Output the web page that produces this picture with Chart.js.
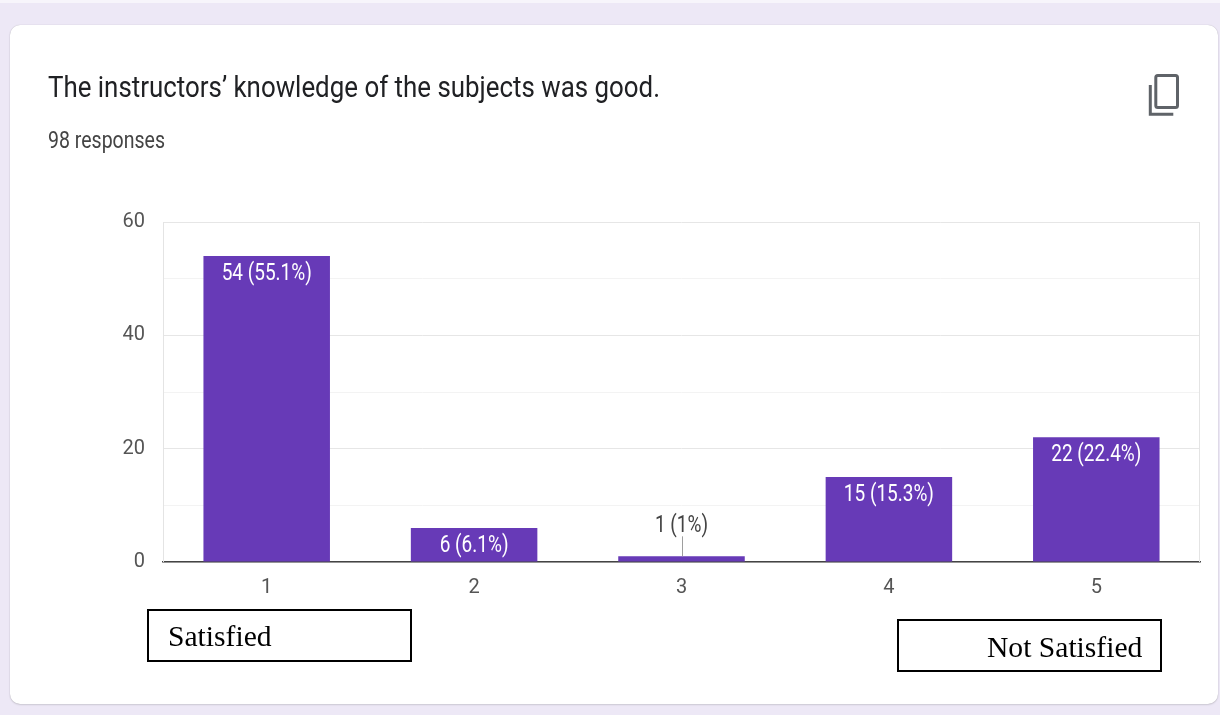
<!DOCTYPE html>
<html>
<head>
<meta charset="utf-8">
<script src="https://cdn.jsdelivr.net/npm/chart.js@4.4.0/dist/chart.umd.min.js"></script>
<style>
  html, body { margin: 0; padding: 0; }
  body { width: 1220px; height: 715px; background: #ede8f6; position: relative; overflow: hidden; font-family: Roboto, sans-serif; }
  #strip { position: absolute; left: 0; top: 0; width: 1220px; height: 3px; background: #f7f5fb; }
  #card { position: absolute; left: 10px; top: 25px; width: 1208px; height: 679px; background: #fff; border-radius: 10px; box-shadow: 0 0 1px rgba(0,0,0,0.25), 0 1px 2px rgba(0,0,0,0.12); }
  #chart { position: absolute; left: 0; top: 0; }
  .txt { position: absolute; white-space: nowrap; line-height: 1; transform-origin: 0 0; }
  #title { left: 48px; top: 72.6px; font-size: 29px; color: #202124; }
  #resp { left: 48px; top: 128.6px; font-size: 23.4px; color: #444; }
  .box { position: absolute; border: 2px solid #000; background: #fff; box-sizing: border-box; }
  .serif { position: absolute; white-space: nowrap; line-height: 1; font-family: "Liberation Serif", "Times New Roman", serif; font-size: 29.6px; color: #000; }
  svg { position: absolute; left: 0; top: 0; }
</style>
</head>
<body>
<div id="strip"></div>
<div id="card"></div>
<canvas id="chart" width="1220" height="715"></canvas>
<div id="title" class="txt">The instructors’ knowledge of the subjects was good.</div>
<div id="resp" class="txt">98 responses</div>
<svg width="1220" height="715">
  <rect x="1155.8" y="75.5" width="21.7" height="32" rx="2" ry="2" fill="none" stroke="#5f6368" stroke-width="3"/>
  <path d="M1150.3 85 V114.2 H1173.3" fill="none" stroke="#5f6368" stroke-width="3"/>
</svg>
<div class="box" style="left:147px; top:609px; width:265px; height:53px;"></div>
<div class="serif" style="left:168px; top:621.8px;">Satisfied</div>
<div class="box" style="left:897px; top:619px; width:265px; height:53px;"></div>
<div class="serif" style="left:987px; top:633.4px;">Not Satisfied</div>
<script>
const categories = ['1', '2', '3', '4', '5'];
const counts = [54, 6, 1, 15, 22];
const percents = ['55.1%', '6.1%', '1%', '15.3%', '22.4%'];
const yLabelledTicks = [0, 20, 40, 60];

function fitWidth(id, target) {
  const el = document.getElementById(id);
  const w = el.getBoundingClientRect().width;
  el.style.transform = 'scaleX(' + (target / w) + ')';
}

const barLabels = {
  id: 'barLabels',
  beforeDatasetsDraw(chart) {
    const a = chart.chartArea, ctx = chart.ctx;
    ctx.save();
    ctx.strokeStyle = '#e4e4e4';
    ctx.lineWidth = 1;
    ctx.beginPath();
    ctx.moveTo(Math.round(a.left) + 0.5, a.top); ctx.lineTo(Math.round(a.left) + 0.5, a.bottom);
    ctx.moveTo(Math.round(a.right) - 0.5, a.top); ctx.lineTo(Math.round(a.right) - 0.5, a.bottom);
    ctx.stroke();
    ctx.restore();
  },
  afterDatasetsDraw(chart) {
    const ctx = chart.ctx;
    const meta = chart.getDatasetMeta(0);
    ctx.save();
    ctx.font = '19px Roboto';
    ctx.textAlign = 'center';
    ctx.textBaseline = 'alphabetic';
    meta.data.forEach((bar, i) => {
      const text = counts[i] + ' (' + percents[i] + ')';
      const h = bar.base - bar.y;
      let cy, color;
      if (h > 25) {
        cy = bar.y + 16; color = '#ffffff';
      } else {
        cy = bar.y - 32; color = '#444444';
        ctx.strokeStyle = '#9e9e9e';
        ctx.lineWidth = 1;
        ctx.beginPath();
        ctx.moveTo(Math.round(bar.x) + 0.5, bar.y - 20);
        ctx.lineTo(Math.round(bar.x) + 0.5, bar.y);
        ctx.stroke();
      }
      ctx.fillStyle = color;
      ctx.save();
      ctx.translate(bar.x, cy);
      ctx.scale(1, 1.25);
      ctx.fillText(text, 0, 6.5);
      ctx.restore();
    });
    ctx.restore();
  }
};

window.addEventListener('load', () => {
  fitWidth('title', 612);
  fitWidth('resp', 117);
});

new Chart(document.getElementById('chart'), {
  type: 'bar',
  data: {
    labels: categories,
    datasets: [{
      data: counts,
      backgroundColor: '#673ab7',
      borderWidth: 0,
      barPercentage: 0.61,
      categoryPercentage: 1.0
    }]
  },
  options: {
    responsive: false,
    devicePixelRatio: 1,
    animation: false,
    layout: { padding: { left: 0, top: 222, right: 20, bottom: 113 } },
    plugins: { legend: { display: false }, tooltip: { enabled: false } },
    scales: {
      x: {
        grid: { display: false, drawTicks: false },
        border: { display: true, color: '#444', width: 1.5 },
        ticks: { color: '#555', padding: 14, font: { family: 'Roboto', size: 20 } },
        afterFit(s) { s.height = 40; }
      },
      y: {
        min: 0, max: 60,
        grid: {
          drawTicks: false,
          color(c) { return (c.tick && yLabelledTicks.includes(c.tick.value)) ? '#e6e6e6' : '#f3f3f3'; }
        },
        border: { display: false },
        ticks: {
          stepSize: 10,
          color: '#555',
          padding: 18,
          font: { family: 'Roboto', size: 20 },
          callback(v) { return yLabelledTicks.includes(v) ? String(v) : ''; }
        },
        afterFit(s) { s.width = 163; }
      }
    }
  },
  plugins: [barLabels]
});
</script>
</body>
</html>
